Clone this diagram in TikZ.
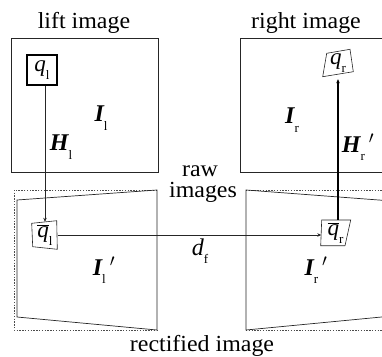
\documentclass[tikz,border=0pt]{standalone}
\usepackage{fontspec}
\setmainfont{Liberation Serif}
\usetikzlibrary{arrows.meta}
\newcommand{\wide}[1]{\scalebox{1.04}[1]{#1}}
\newcommand{\sbx}[1]{\raisebox{-0.35em}{\fontsize{13}{13}\selectfont #1}}
\newcommand{\bI}{{\bfseries\itshape I}}
\newcommand{\bH}{{\bfseries\itshape H}}
\newcommand{\iq}{{\itshape q}}
\newcommand{\qbar}{\ensuremath{\overline{\mbox{\itshape q}}}}
\newcommand{\prm}{\ensuremath{{}^{\prime}}}
\begin{document}
\begin{tikzpicture}[x=1pt,y=-1pt,
  txt/.style={font=\fontsize{23}{25}\selectfont, inner sep=0pt, anchor=base},
  lab/.style={font=\fontsize{24}{26}\selectfont, inner sep=0pt},
  qlab/.style={font=\fontsize{23}{25}\selectfont, inner sep=0pt},
  frame/.style={draw=black!85, line width=0.7pt},
  dfr/.style={draw=black!70, line width=0.7pt, dash pattern=on 1.4pt off 1.4pt},
  arr/.style={draw=black!85, line width=0.6pt, -{Stealth[length=4pt,width=3.5pt]}},
  tarr/.style={draw=black, line width=1.2pt, -{Stealth[length=4pt,width=3.5pt]}}]
\useasboundingbox (0,0) rectangle (382,356);
\clip (0,0) rectangle (382,356);

% titles
\node[txt] (tl) at (84,28) {\wide{lift image}};
\node[txt] (tr) at (306,28) {\wide{right image}};
\node[txt] (traw) at (200,176) {\wide{raw}};
\node[txt] (timg) at (203,197) {\wide{images}};
\node[txt] (trect) at (202,351) {\wide{rectified image}};

% raw image frames
\draw[frame] (11,38) rectangle (158,172);
\draw[frame] (240,38) -- (392,38);
\draw[frame] (240,38) -- (240,172) -- (392,172);

% rectified frames (dashed outer and solid trapezoids)
\draw[dfr] (157,190) -- (14,190) -- (14,330) -- (157,330);
\draw[frame] (17,200) -- (157,190) -- (157,330) -- (17,317) -- cycle;
\draw[dfr] (246,190) -- (392,190);
\draw[dfr] (246,330) -- (392,330);
\draw[frame] (392,201) -- (246,190) -- (246,330) -- (392,316);

% points
\node[qlab, draw=black, line width=1.4pt, minimum width=30pt, minimum height=30pt] (ql) at (42,70) {\iq\sbx{l}};
\node[qlab, minimum width=25pt, minimum height=26pt] (qbl) at (45,235) {\qbar\sbx{l}};
\draw[frame, line width=0.6pt] (31.7,223.3) -- (56.7,220.7) -- (57.3,249.3) -- (32.7,246.7) -- cycle;
\node[qlab, minimum width=28pt, minimum height=32pt] (qr) at (338,63) {\iq\sbx{r}};
\draw[frame, line width=0.6pt] (326.7,53.3) -- (350,49.3) -- (353.3,71.7) -- (322.7,76.7) -- cycle;
\node[qlab, minimum width=28pt, minimum height=26pt] (qbr) at (335.5,233) {\qbar\sbx{r}};
\draw[frame, line width=0.6pt] (321.7,220) -- (350.7,220) -- (345,245.7) -- (320.7,245.7) -- cycle;

% labels
\node[lab] (Il) at (101,118) {\bI\sbx{l}};
\node[lab] (Hl) at (61,147) {\bH\sbx{l}};
\node[lab] (Ir) at (292,120) {\bI\sbx{r}};
\node[lab] (Hr) at (358,147) {\bH\sbx{r}\,\prm};
\node[lab] (Ilp) at (104,270) {\bI\sbx{l}\,\prm};
\node[lab] (Irp) at (316,270) {\bI\sbx{r}\,\prm};
\node[lab, font=\fontsize{24}{26}\selectfont\itshape] (df) at (200,251) {d\sbx{\upshape f}};

% connectors
\draw[arr] (ql.south -| qbl.north) -- (qbl.north);
\draw[arr] (qbl.east) -- (qbr.west |- qbl.east);
\draw[tarr] (qbr.north -| qr.south) -- (qr.south);
\end{tikzpicture}
\end{document}
